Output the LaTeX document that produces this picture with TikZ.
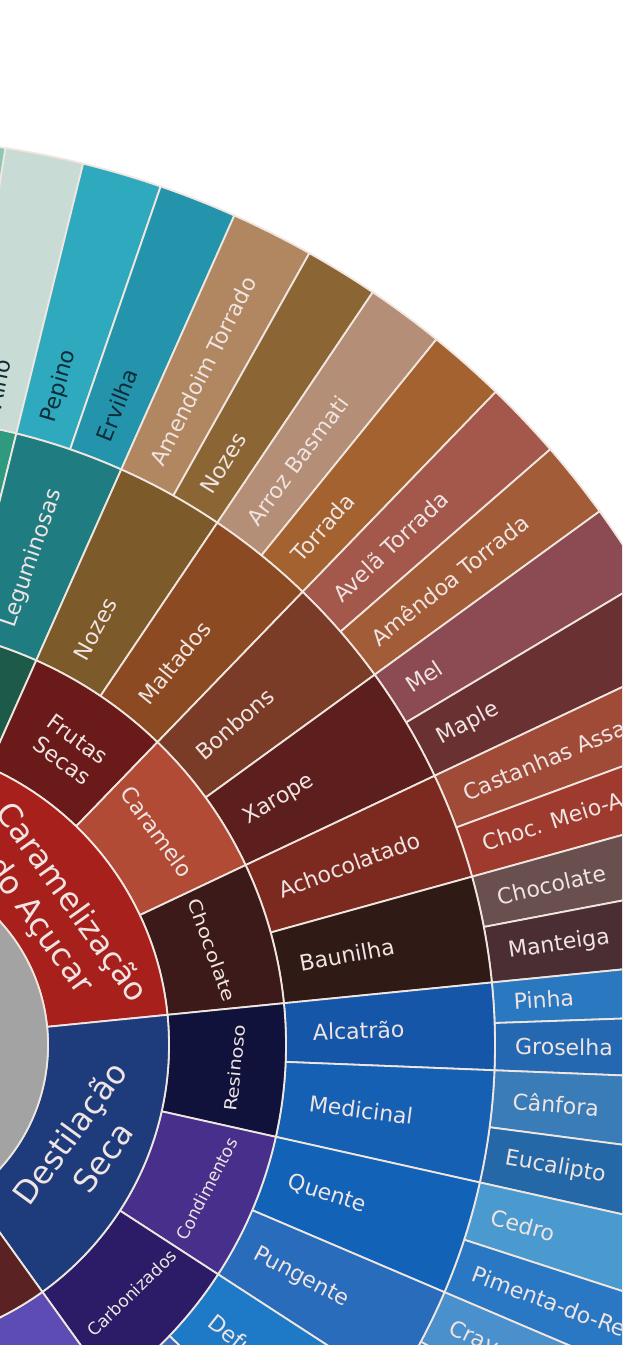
\documentclass[tikz,border=0pt]{standalone}
\usepackage{fontspec}
\setmainfont{DejaVu Sans}
\usetikzlibrary{calc}
\definecolor{linec}{HTML}{F0E6E0}
\definecolor{txtl}{HTML}{EFE4E2}
\definecolor{txtd}{HTML}{0E2C38}
\definecolor{cgray}{HTML}{A3A3A3}
% ring 1
\definecolor{cAroma}{HTML}{2A7A60}
\definecolor{cCaram}{HTML}{A8201C}
\definecolor{cDestil}{HTML}{1E3C7C}
\definecolor{cMaroon}{HTML}{5A2222}
% ring 2
\definecolor{cHerb}{HTML}{1D5A4A}
\definecolor{cFrutas}{HTML}{6B1A1A}
\definecolor{cCaramelo}{HTML}{B14B36}
\definecolor{cChoc}{HTML}{3C1A1A}
\definecolor{cResin}{HTML}{10123C}
\definecolor{cCondim}{HTML}{46308C}
\definecolor{cCarbon}{HTML}{2C1C68}
\definecolor{cViolet}{HTML}{5C4CB4}
% ring 3
\definecolor{cAliac}{HTML}{2E9A7E}
\definecolor{cLegum}{HTML}{1F7D82}
\definecolor{cNozesA}{HTML}{7C5A2A}
\definecolor{cMalt}{HTML}{8C4A22}
\definecolor{cBonb}{HTML}{7A3C26}
\definecolor{cXarope}{HTML}{5C1F1E}
\definecolor{cAchoc}{HTML}{7C2A20}
\definecolor{cBaun}{HTML}{2F1A16}
\definecolor{cAlcat}{HTML}{1556A8}
\definecolor{cMedic}{HTML}{1660B4}
\definecolor{cQuente}{HTML}{1262B8}
\definecolor{cPung}{HTML}{2A6CBC}
\definecolor{cDefum}{HTML}{1E7AC6}
\definecolor{cCinzas}{HTML}{3A6AB8}
% ring 4
\definecolor{cPaleA}{HTML}{8CC8B8}
\definecolor{cPale}{HTML}{C8DCD5}
\definecolor{cPepino}{HTML}{2FA9BD}
\definecolor{cErvilha}{HTML}{2394AB}
\definecolor{cAmend}{HTML}{B08760}
\definecolor{cNozesB}{HTML}{8B6634}
\definecolor{cArroz}{HTML}{B48E76}
\definecolor{cTorr}{HTML}{A3622F}
\definecolor{cAvela}{HTML}{A4584C}
\definecolor{cAmendoa}{HTML}{A35C38}
\definecolor{cMel}{HTML}{8C4A52}
\definecolor{cMaple}{HTML}{6A3133}
\definecolor{cCast}{HTML}{A04A38}
\definecolor{cMeio}{HTML}{9E3A2E}
\definecolor{cChocB}{HTML}{69504F}
\definecolor{cMant}{HTML}{4A2E33}
\definecolor{cPinha}{HTML}{2A78C0}
\definecolor{cGros}{HTML}{2468B2}
\definecolor{cCanf}{HTML}{3A7CB8}
\definecolor{cEuc}{HTML}{2468A8}
\definecolor{cCedro}{HTML}{4A9AD0}
\definecolor{cPim}{HTML}{2A78C4}
\definecolor{cCravo}{HTML}{4A90CC}
\definecolor{cTom}{HTML}{3A80C4}
\newcommand{\wsec}[5]{%
  \filldraw[fill=#5, draw=linec, line width=1.8pt, line join=round]
    ([shift={(#1:#3pt)}]C) arc[start angle=#1, end angle=#2, radius=#3pt]
    -- ([shift={(#2:#4pt)}]C) arc[start angle=#2, end angle=#1, radius=#4pt] -- cycle;}
\tikzset{
  rlab/.style={anchor=west, text=txtl, inner sep=0pt, font=\fontsize{22}{26}\selectfont},
  tlab/.style={align=center, text=txtl, inner sep=0pt},
}
% radial label: angle, radius, text, extra style
\newcommand{\rlabel}[4]{\node[rlab, rotate=#1, #4] at ([shift={(#1:#2pt)}]C) {#3};}
\begin{document}
\begin{tikzpicture}[x=1pt, y=1pt]
\useasboundingbox (0,0) rectangle (622,-1345);
\clip (0,0) rectangle (622,-1345);
\fill[white] (0,0) rectangle (622,-1345);
\coordinate (C) at (-135,-1045);
% ring 4
\wsec{81.1}{100}{630}{908}{cPaleA}
\wsec{76.1}{81.1}{630}{908}{cPale}
\wsec{71}{76.1}{630}{908}{cPepino}
\wsec{66}{71}{630}{908}{cErvilha}
\wsec{60.7}{66}{630}{908}{cAmend}
\wsec{56}{60.7}{630}{908}{cNozesB}
\wsec{51}{56}{630}{908}{cArroz}
\wsec{46}{51}{630}{908}{cTorr}
\wsec{41}{46}{630}{908}{cAvela}
\wsec{36}{41}{630}{908}{cAmendoa}
\wsec{30.8}{36}{630}{908}{cMel}
\wsec{25.3}{30.8}{630}{908}{cMaple}
\wsec{20.2}{25.3}{630}{908}{cCast}
\wsec{15.5}{20.2}{630}{908}{cMeio}
\wsec{10.8}{15.5}{630}{908}{cChocB}
\wsec{5.7}{10.8}{630}{908}{cMant}
\wsec{2}{5.7}{630}{908}{cPinha}
\wsec{-2.3}{2}{630}{908}{cGros}
\wsec{-7.5}{-2.3}{630}{908}{cCanf}
\wsec{-12.6}{-7.5}{630}{908}{cEuc}
\wsec{-18}{-12.6}{630}{908}{cCedro}
\wsec{-23.1}{-18}{630}{908}{cPim}
\wsec{-28.1}{-23.1}{630}{908}{cCravo}
\wsec{-33}{-28.1}{630}{908}{cTom}
% ring 3
\wsec{76.1}{100}{421}{630}{cAliac}
\wsec{66}{76.1}{421}{630}{cLegum}
\wsec{56}{66}{421}{630}{cNozesA}
\wsec{46}{56}{421}{630}{cMalt}
\wsec{36}{46}{421}{630}{cBonb}
\wsec{25.3}{36}{421}{630}{cXarope}
\wsec{15.5}{25.3}{421}{630}{cAchoc}
\wsec{5.7}{15.5}{421}{630}{cBaun}
\wsec{-2.3}{5.7}{421}{630}{cAlcat}
\wsec{-12.6}{-2.3}{421}{630}{cMedic}
\wsec{-23.1}{-12.6}{421}{630}{cQuente}
\wsec{-33}{-23.1}{421}{630}{cPung}
\wsec{-43.7}{-33}{421}{630}{cDefum}
\wsec{-60}{-43.7}{421}{630}{cCinzas}
% ring 2
\wsec{66}{100}{304}{421}{cHerb}
\wsec{46}{66}{304}{421}{cFrutas}
\wsec{25.3}{46}{304}{421}{cCaramelo}
\wsec{5.7}{25.3}{304}{421}{cChoc}
\wsec{-12.6}{5.7}{304}{421}{cResin}
\wsec{-33}{-12.6}{304}{421}{cCondim}
\wsec{-54.3}{-33}{304}{421}{cCarbon}
\wsec{-100}{-54.3}{304}{421}{cViolet}
% ring 1
\wsec{66}{100}{183}{304}{cAroma}
\wsec{5.7}{66}{183}{304}{cCaram}
\wsec{-54.3}{5.7}{183}{304}{cDestil}
\wsec{-100}{-54.3}{183}{304}{cMaroon}
% centre
\filldraw[fill=cgray, draw=linec, line width=1.8pt] (C) circle[radius=183pt];
% ring 4 labels
\rlabel{78.6}{650}{Alho}{text=txtd}
\rlabel{73.55}{650}{Pepino}{text=txtd}
\rlabel{68.5}{650}{Ervilha}{text=txtd}
\rlabel{63.35}{650}{Amendoim Torrado}{}
\rlabel{58.35}{650}{Nozes}{}
\rlabel{53.5}{650}{Arroz Basmati}{}
\rlabel{48.5}{650}{Torrada}{}
\rlabel{43.5}{650}{Avelã Torrada}{}
\rlabel{38.5}{650}{Amêndoa Torrada}{}
\rlabel{33.4}{650}{Mel}{}
\rlabel{28.05}{650}{Maple}{}
\rlabel{22.75}{650}{Castanhas Assadas}{}
\rlabel{17.85}{650}{Choc. Meio-Amargo}{}
\rlabel{13.15}{650}{Chocolate}{}
\rlabel{8.25}{650}{Manteiga}{}
\rlabel{3.85}{650}{Pinha}{}
\rlabel{-0.15}{650}{Groselha}{}
\rlabel{-4.9}{650}{Cânfora}{}
\rlabel{-10.05}{650}{Eucalipto}{}
\rlabel{-15.3}{650}{Cedro}{}
\rlabel{-20.55}{650}{Pimenta-do-Reino}{}
\rlabel{-25.6}{650}{Cravo}{}
% ring 3 labels
\rlabel{71.05}{442}{Leguminosas}{}
\rlabel{61}{442}{Nozes}{}
\rlabel{51}{442}{Maltados}{}
\rlabel{41}{442}{Bonbons}{}
\rlabel{30.65}{442}{Xarope}{}
\rlabel{20.4}{442}{Achocolatado}{}
\rlabel{10.6}{442}{Baunilha}{}
\rlabel{1.7}{448}{Alcatrão}{}
\rlabel{-7.45}{448}{Medicinal}{}
\rlabel{-17.85}{445}{Quente}{}
\rlabel{-28.05}{442}{Pungente}{}
\rlabel{-38.35}{442}{Defumado}{}
% ring 2 labels
\node[tlab, rotate=-36, font=\fontsize{22}{26}\selectfont] (frutas) at (70,-750) {Frutas\\Secas};
\node[tlab, rotate=-54, font=\fontsize{22}{26}\selectfont] (caramelo) at (157,-832) {Caramelo};
\node[tlab, rotate=-70, font=\fontsize{18}{22}\selectfont, xscale=1.2] (chocolate) at (212,-950) {Chocolate};
\node[tlab, rotate=84, font=\fontsize{17}{22}\selectfont, xscale=1.15] (resinoso) at (235,-1068) {Resinoso};
\node[tlab, rotate=62.5, font=\fontsize{17}{22}\selectfont] (condimentos) at (207,-1189) {Condimentos};
\node[tlab, rotate=44, font=\fontsize{17}{22}\selectfont] (carbonizados) at (132,-1293) {Carbonizados};
% ring 1 labels
\node[tlab, rotate=-54.3, font=\fontsize{32}{39}\selectfont] (caramelizacao) at (55,-914) {Caramelização\\do Açucar};
\node[tlab, rotate=54, font=\fontsize{32}{41}\selectfont] (destilacao) at (86,-1145) {Destilação\\Seca};
\end{tikzpicture}
\end{document}
